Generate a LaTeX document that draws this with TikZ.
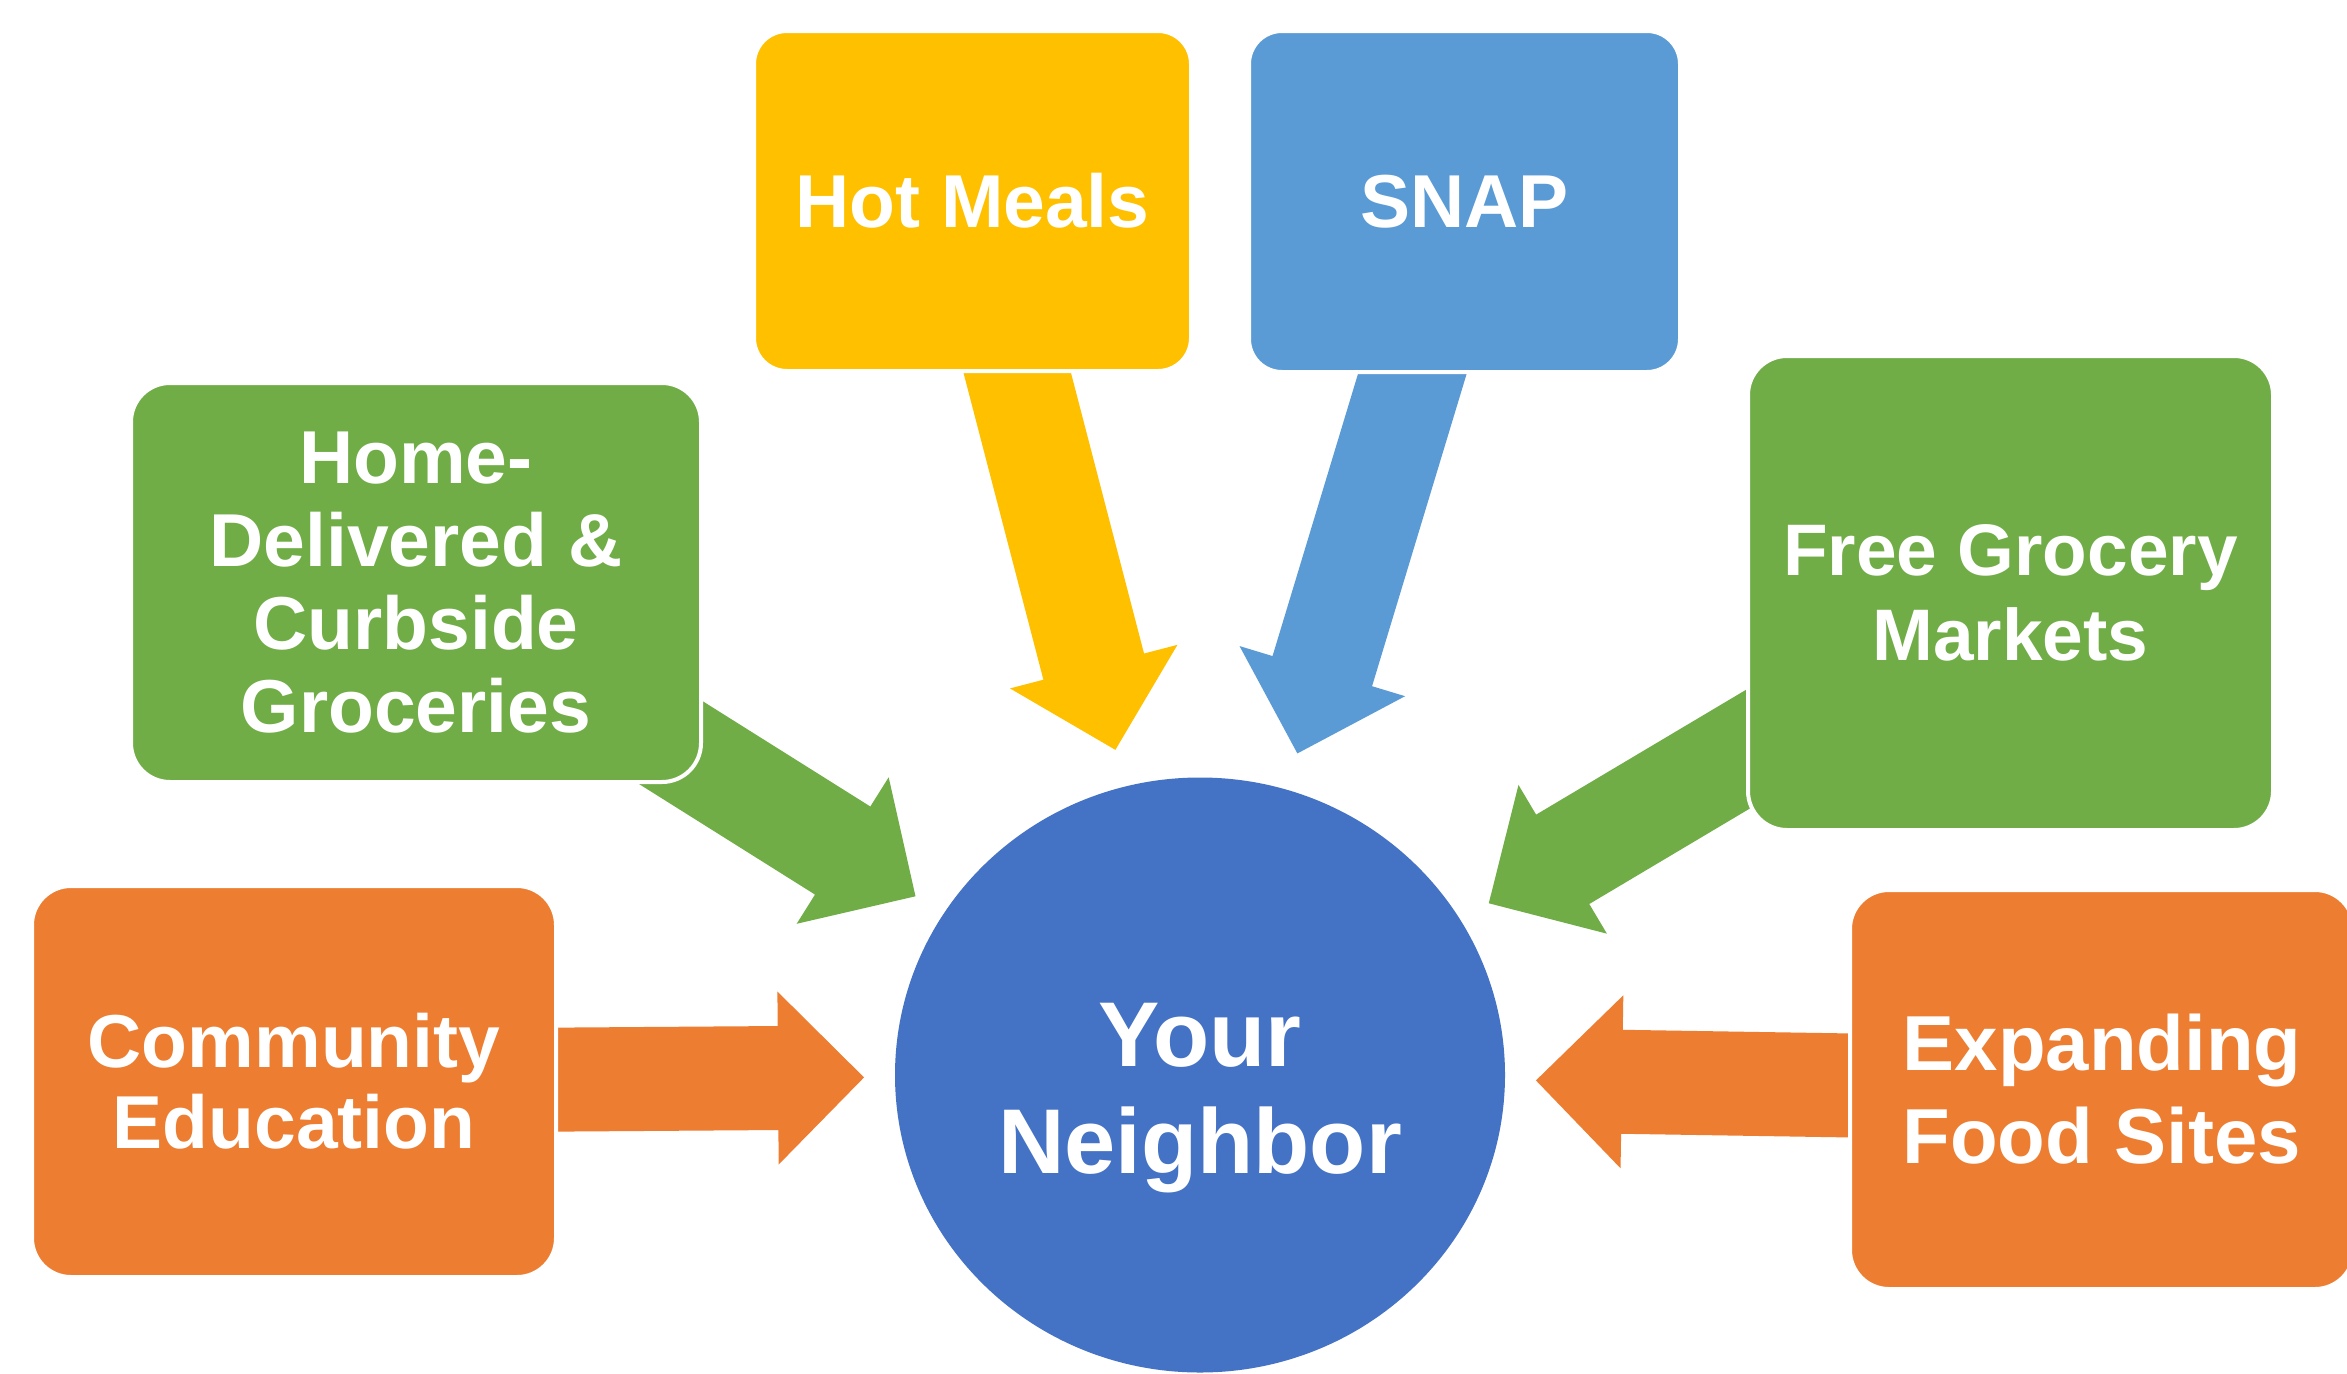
\documentclass[tikz,border=0pt]{standalone}
\usepackage{fontspec}
\setmainfont{Liberation Sans}
\usetikzlibrary{shapes.geometric,calc}
\definecolor{cYel}{HTML}{FFC000}
\definecolor{cSnap}{HTML}{5B9BD5}
\definecolor{cGreen}{HTML}{70AD47}
\definecolor{cOrange}{HTML}{ED7D31}
\definecolor{cNb}{HTML}{4472C4}
\pgfdeclarelayer{bg}
\pgfsetlayers{bg,main}
\newcommand{\blockarr}[3]{%
  \coordinate (#2-tip) at ($(#3.center)!336pt!(#2.center)$);
  \coordinate (#2-hb) at ($(#2-tip)!86pt!(#2.center)$);
  \fill[#1] ($(#2.center)!52pt!90:(#2-tip)$) -- ($(#2-hb)!52pt!90:(#2-tip)$)
    -- ($(#2-hb)!86.5pt!90:(#2-tip)$) -- (#2-tip)
    -- ($(#2-hb)!86.5pt!-90:(#2-tip)$) -- ($(#2-hb)!52pt!-90:(#2-tip)$)
    -- ($(#2.center)!52pt!-90:(#2-tip)$) -- cycle;
}
\tikzset{
  box/.style={rectangle, draw=white, line width=4pt, text=white, align=center,
    inner sep=0pt, font=\bfseries\fontsize{75}{83}\selectfont},
}
\begin{document}
\begin{tikzpicture}[x=1pt,y=-1pt]
\useasboundingbox (0,0) rectangle (2347,1373);
\begin{pgfonlayer}{bg}
\fill[white] (0,0) rectangle (2347,1373);
\end{pgfonlayer}
\node[box, fill=cYel, rounded corners=33pt, minimum width=437pt, minimum height=340pt] (hot) at (972.5,201) {Hot Meals};
\node[box, fill=cSnap, rounded corners=33pt, minimum width=431pt, minimum height=341pt] (snap) at (1464.5,201.5) {SNAP};
\node[box, fill=cGreen, rounded corners=39pt, minimum width=570pt, minimum height=399pt] (home) at (416,582.5) {Home-\\Delivered \&\\Curbside\\Groceries};
\node[box, fill=cGreen, rounded corners=39pt, minimum width=525pt, minimum height=474pt, font=\bfseries\fontsize{73}{85}\selectfont] (free) at (2010.5,593) {Free Grocery\\Markets};
\node[box, fill=cOrange, rounded corners=39pt, minimum width=524pt, minimum height=391pt, font=\bfseries\fontsize{75}{81}\selectfont] (comm) at (294,1081.5) {Community\\Education};
\node[box, fill=cOrange, rounded corners=39pt, minimum width=504pt, minimum height=399pt, font=\bfseries\fontsize{78}{93}\selectfont] (exp) at (2102,1089.5) {Expanding\\Food Sites};
\node[ellipse, fill=cNb, minimum width=610pt, minimum height=595pt, inner sep=0pt] (nb) at (1200,1075) {};
\node[text=white, align=center, inner sep=0pt, font=\bfseries\fontsize{92}{107}\selectfont] (nbt) at (1200,1098) {Your\\Neighbor};
\begin{pgfonlayer}{bg}
\blockarr{cYel}{hot}{nb}
\blockarr{cSnap}{snap}{nb}
\blockarr{cGreen}{home}{nb}
\blockarr{cGreen}{free}{nb}
\blockarr{cOrange}{comm}{nb}
\blockarr{cOrange}{exp}{nb}
\end{pgfonlayer}
\end{tikzpicture}
\end{document}
